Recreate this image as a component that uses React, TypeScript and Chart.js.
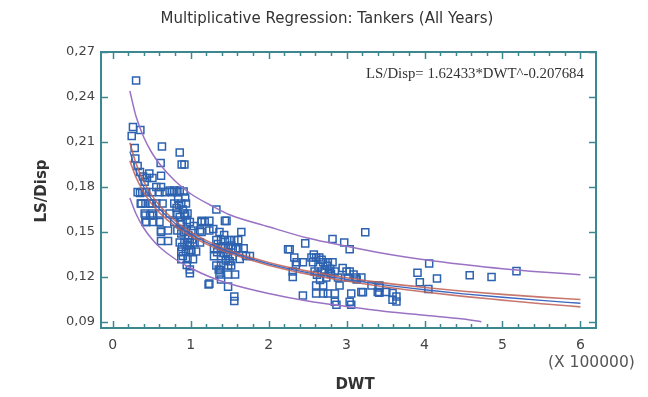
import React, { useEffect, useRef } from "react";
import { Chart, registerables } from "chart.js";
Chart.register(...registerables);

// ---- Data (DWT in units of 100000, LS/Disp) ----
const dwt = [
  0.30, 0.26, 0.355, 0.244, 0.632, 0.86, 0.885, 0.92, 0.615,
  0.282, 0.29, 0.32, 0.35, 0.39, 0.44, 0.47, 0.51, 0.41, 0.35,
  0.62, 0.56, 0.62, 0.73, 0.79, 0.86,
  0.32, 0.38, 0.5, 0.6, 0.67, 0.76, 0.83,
  0.37, 0.50, 0.56, 0.64, 0.79, 0.88, 0.94,
  0.41, 0.51, 0.60, 0.73, 0.83, 0.92, 0.96,
  0.43, 0.60, 0.79, 0.88, 0.99, 1.14, 1.18,
  0.62, 0.71, 0.83, 0.94, 1.01, 1.12, 1.24,
  0.62, 0.86, 0.92, 0.99, 1.05, 1.12,
  0.88, 0.94, 1.01, 1.07, 0.88, 0.96, 1.03,
  0.99, 0.99, 1.23,
  0.43, 0.36, 0.42, 0.48, 0.42, 0.48, 0.52, 0.42, 0.52, 0.62, 0.71,
  0.84, 0.90, 0.95, 0.86, 0.97, 0.91, 1.04, 0.82, 0.93, 0.89, 1.00, 0.95, 0.90,
  0.87, 0.93, 0.97, 0.85, 0.91, 1.02, 0.96, 0.88,
  1.33, 1.14, 1.24, 1.44, 1.46, 1.14, 1.37, 1.65,
  1.33, 1.39, 1.44, 1.50, 1.56, 1.61,
  1.30, 1.39, 1.48, 1.54, 1.61, 1.68, 1.76,
  1.30, 1.39, 1.48, 1.54, 1.33, 1.39, 1.48, 1.52,
  1.37, 1.48, 1.57, 1.24, 1.39, 1.48, 1.56, 1.56,
  1.35, 1.42, 1.45, 1.52, 1.36, 1.43, 1.63, 1.71, 1.29,
  1.41, 1.46, 1.34, 1.50, 1.58, 1.38,
  2.25, 3.24, 2.82, 2.97, 3.04, 2.47, 2.27,
  2.33, 2.55, 2.61, 2.65,
  2.36, 2.44, 2.57, 2.70, 2.76, 2.82,
  2.31, 2.59, 2.68, 2.78, 2.85, 3.00, 3.04,
  2.74, 2.89, 3.02, 3.12, 3.19,
  2.61, 2.70, 2.91, 3.32, 3.42,
  3.19, 3.40, 3.51,
  2.61, 2.70, 2.76, 2.85, 3.06,
  2.44, 2.85, 2.87, 3.04, 3.06,
  2.31, 2.35, 3.09, 3.13, 3.21,
  2.64, 2.72, 2.80, 2.66, 2.95, 2.58,
  2.68, 2.75, 2.79, 2.62,
  4.06, 3.91, 4.16, 3.94, 4.05, 4.58, 4.86, 5.18,
  3.42, 3.42, 3.59, 3.64, 3.59, 3.64,
];
const lsDisp = [
  0.251, 0.220, 0.218, 0.214, 0.207, 0.203, 0.195, 0.195, 0.196,
  0.206, 0.199, 0.194, 0.190, 0.187, 0.186, 0.189, 0.186, 0.1835, 0.176,
  0.1875, 0.180, 0.180, 0.1776, 0.1776, 0.1776,
  0.1766, 0.1766, 0.1766, 0.1766, 0.1766, 0.1766, 0.1766,
  0.169, 0.169, 0.169, 0.169, 0.169, 0.169, 0.169,
  0.1623, 0.1623, 0.1623, 0.1623, 0.1623, 0.1623, 0.1623,
  0.1567, 0.1567, 0.1567, 0.1567, 0.1567, 0.1567, 0.1567,
  0.151, 0.151, 0.151, 0.151, 0.151, 0.151, 0.151,
  0.144, 0.143, 0.143, 0.143, 0.143, 0.143,
  0.137, 0.137, 0.137, 0.137, 0.1318, 0.1318, 0.1318,
  0.125, 0.1225, 0.115,
  0.1767, 0.169, 0.169, 0.169, 0.161, 0.161, 0.161, 0.1567, 0.1567, 0.150, 0.144,
  0.172, 0.165, 0.158, 0.160, 0.148, 0.150, 0.154, 0.166, 0.173, 0.140, 0.138, 0.128, 0.134,
  0.155, 0.161, 0.146, 0.168, 0.177, 0.145, 0.141, 0.149,
  0.165, 0.1574, 0.1574, 0.1574, 0.1574, 0.150, 0.150, 0.150,
  0.1446, 0.1446, 0.1446, 0.1446, 0.1446, 0.1446,
  0.1392, 0.1392, 0.1392, 0.1392, 0.1392, 0.1392, 0.134,
  0.1338, 0.1338, 0.1338, 0.1338, 0.1277, 0.1277, 0.1277, 0.1277,
  0.1217, 0.1217, 0.1217, 0.1156, 0.1183, 0.1136, 0.107, 0.104,
  0.142, 0.136, 0.131, 0.141, 0.125, 0.148, 0.132, 0.134, 0.152,
  0.1405, 0.1365, 0.1365, 0.1305, 0.1385, 0.1245,
  0.1385, 0.1498, 0.1453, 0.143, 0.1385, 0.1424, 0.1385,
  0.133, 0.133, 0.133, 0.133,
  0.1298, 0.1298, 0.1298, 0.1298, 0.1298, 0.1298,
  0.1237, 0.1237, 0.1237, 0.1237, 0.1237, 0.1237, 0.1237,
  0.1197, 0.1197, 0.1197, 0.1197, 0.1197,
  0.1143, 0.1143, 0.1143, 0.1143, 0.1143,
  0.110, 0.110, 0.110,
  0.109, 0.109, 0.109, 0.109, 0.109,
  0.1077, 0.1035, 0.1015, 0.1035, 0.1015,
  0.120, 0.128, 0.1217, 0.1183, 0.1098,
  0.127, 0.125, 0.122, 0.118, 0.126, 0.135,
  0.1315, 0.1275, 0.1255, 0.1215,
  0.129, 0.1228, 0.119, 0.1165, 0.112, 0.1212, 0.120, 0.1239,
  0.113, 0.1095, 0.1093, 0.107, 0.1048, 0.1037,
];

// Curves
const curveX = [0.22, 0.3, 0.4, 0.5, 0.6, 0.8, 1.0, 1.25, 1.5, 2, 2.5, 3, 3.5, 4, 4.5, 5, 5.5, 6];
const fitY = [0.2036, 0.1909, 0.1799, 0.1717, 0.1653, 0.1557, 0.1487, 0.1420, 0.1367, 0.1288, 0.1229, 0.1184, 0.1146, 0.1115, 0.1088, 0.1065, 0.1044, 0.1025];
const ciUpperY = [0.2095, 0.1955, 0.1835, 0.1746, 0.1677, 0.1575, 0.1501, 0.1431, 0.1376, 0.1297, 0.1239, 0.1195, 0.1159, 0.1130, 0.1105, 0.1084, 0.1066, 0.1050];
const ciLowerY = [0.1975, 0.1863, 0.1763, 0.1688, 0.1629, 0.1539, 0.1473, 0.1409, 0.1358, 0.1279, 0.1219, 0.1173, 0.1133, 0.1100, 0.1071, 0.1046, 0.1022, 0.1001];
const piUpperY = [0.2440, 0.2270, 0.2130, 0.2030, 0.1955, 0.1840, 0.1755, 0.1680, 0.1615, 0.1535, 0.1460, 0.1405, 0.1355, 0.1315, 0.1283, 0.1255, 0.1233, 0.1215];
const piLowerX = [0.22, 0.3, 0.4, 0.5, 0.6, 0.8, 1.0, 1.25, 1.5, 2, 2.5, 3, 3.5, 4, 4.5, 4.73];
const piLowerY = [0.1726, 0.1620, 0.1525, 0.1455, 0.1400, 0.1320, 0.1260, 0.1200, 0.1155, 0.1090, 0.1040, 0.1003, 0.0970, 0.0945, 0.0920, 0.0902];

const xTicks = [0, 1, 2, 3, 4, 5, 6];
const yTicks = [0.09, 0.12, 0.15, 0.18, 0.21, 0.24, 0.27];

const TITLE = "Multiplicative Regression: Tankers (All Years)";
const X_TITLE = "DWT";
const Y_TITLE = "LS/Disp";
const X_MULT = "(X 100000)";
const EQUATION = "LS/Disp= 1.62433*DWT^-0.207684";

const FRAME = "#3d8790";
const TEXT = "#333";
const FONT = "'DejaVu Sans', Verdana, sans-serif";

const pts = (xs: number[], ys: number[]) => xs.map((x, i) => ({ x, y: ys[i] }));

const decorPlugin = {
  id: "decor",
  afterDraw(chart: any) {
    const { ctx, chartArea: a, scales } = chart;
    const x = scales.x;
    const y = scales.y;
    ctx.save();
    // frame
    ctx.strokeStyle = FRAME;
    ctx.lineWidth = 2;
    ctx.strokeRect(a.left, a.top, a.right - a.left, a.bottom - a.top);
    ctx.lineWidth = 1.5;
    ctx.beginPath();
    for (let i = 0; i <= 30; i++) {
      const v = i * 0.2;
      const major = i % 5 === 0;
      const px = Math.round(x.getPixelForValue(v)) + 0.5;
      const len = major ? 7 : 4;
      ctx.moveTo(px, a.bottom);
      ctx.lineTo(px, a.bottom - len);
      ctx.moveTo(px, a.top);
      ctx.lineTo(px, a.top + len);
    }
    for (const v of yTicks) {
      const py = Math.round(y.getPixelForValue(v)) + 0.5;
      ctx.moveTo(a.left, py);
      ctx.lineTo(a.left + 7, py);
      ctx.moveTo(a.right, py);
      ctx.lineTo(a.right - 7, py);
    }
    ctx.stroke();

    // texts
    ctx.fillStyle = TEXT;
    ctx.textAlign = "center";
    ctx.textBaseline = "alphabetic";
    ctx.font = `15px ${FONT}`;
    ctx.fillText(TITLE, 327, 23);

    ctx.font = `bold 15px ${FONT}`;
    ctx.fillText(X_TITLE, 355, 389);

    ctx.save();
    ctx.translate(46, 191);
    ctx.rotate(-Math.PI / 2);
    ctx.fillText(Y_TITLE, 0, 0);
    ctx.restore();

    ctx.font = `15.5px ${FONT}`;
    ctx.fillStyle = "#555";
    ctx.textAlign = "left";
    ctx.fillText(X_MULT, 548, 367);

    ctx.font = `14.8px 'Liberation Serif', 'Times New Roman', serif`;
    ctx.fillStyle = "#333";
    ctx.fillText(EQUATION, 366, 78);
    ctx.restore();
  },
};

export default function App() {
  const ref = useRef<HTMLCanvasElement | null>(null);
  useEffect(() => {
    if (!ref.current) return;
    const lineDs = (label: string, data: any, color: string, width: number) => ({
      label,
      data,
      showLine: true,
      borderColor: color,
      backgroundColor: color,
      borderWidth: width,
      pointRadius: 0,
      cubicInterpolationMode: "monotone",
      fill: false,
      order: 0,
    });
    const chart = new Chart(ref.current, {
      type: "scatter",
      data: {
        datasets: [
          lineDs("fit", pts(curveX, fitY), "#3a67c0", 1.3),
          lineDs("ciU", pts(curveX, ciUpperY), "rgba(190,95,85,0.85)", 1.6),
          lineDs("ciL", pts(curveX, ciLowerY), "rgba(190,95,85,0.85)", 1.6),
          lineDs("piU", pts(curveX, piUpperY), "#9a72c4", 1.5),
          lineDs("piL", pts(piLowerX, piLowerY), "#9a72c4", 1.5),
          {
            label: "obs",
            data: pts(dwt, lsDisp),
            showLine: false,
            pointStyle: "rect",
            pointRadius: 5,
            pointHoverRadius: 5,
            borderColor: "#2d62b0",
            backgroundColor: "rgba(0,0,0,0)",
            pointBorderWidth: 1.5,
            borderWidth: 1.5,
            order: 1,
          } as any,
        ] as any,
      },
      options: {
        animation: false,
        responsive: false,
        devicePixelRatio: 1,
        layout: { padding: { top: 52, right: 52, left: 0, bottom: 0 } },
        plugins: { legend: { display: false }, tooltip: { enabled: false }, title: { display: false } },
        scales: {
          x: {
            type: "linear",
            min: -0.15,
            max: 6.2,
            afterBuildTicks: (s: any) => {
              s.ticks = xTicks.map((v) => ({ value: v }));
            },
            afterFit: (s: any) => {
              s.height = 69;
            },
            grid: { display: false, drawTicks: false },
            border: { display: false },
            ticks: {
              autoSkip: false,
              maxRotation: 0,
              padding: 9,
              color: "#444",
              font: { family: FONT, size: 14 },
              callback: (v: any) => String(v),
            },
          },
          y: {
            type: "linear",
            min: 0.086,
            max: 0.27,
            afterBuildTicks: (s: any) => {
              s.ticks = yTicks.map((v) => ({ value: v }));
            },
            afterFit: (s: any) => {
              s.width = 101;
            },
            grid: { display: false, drawTicks: false },
            border: { display: false },
            ticks: {
              autoSkip: false,
              padding: 6,
              color: "#444",
              font: { family: FONT, size: 13 },
              callback: (v: any) => Number(v).toFixed(2).replace(".", ","),
            },
          },
        },
      } as any,
      plugins: [decorPlugin],
    });
    return () => chart.destroy();
  }, []);
  return (
    <div style={{ position: "fixed", left: 0, top: 0, width: 648, height: 397, background: "#fff" }}>
      <canvas ref={ref} width={648} height={397} style={{ display: "block" }} />
    </div>
  );
}
